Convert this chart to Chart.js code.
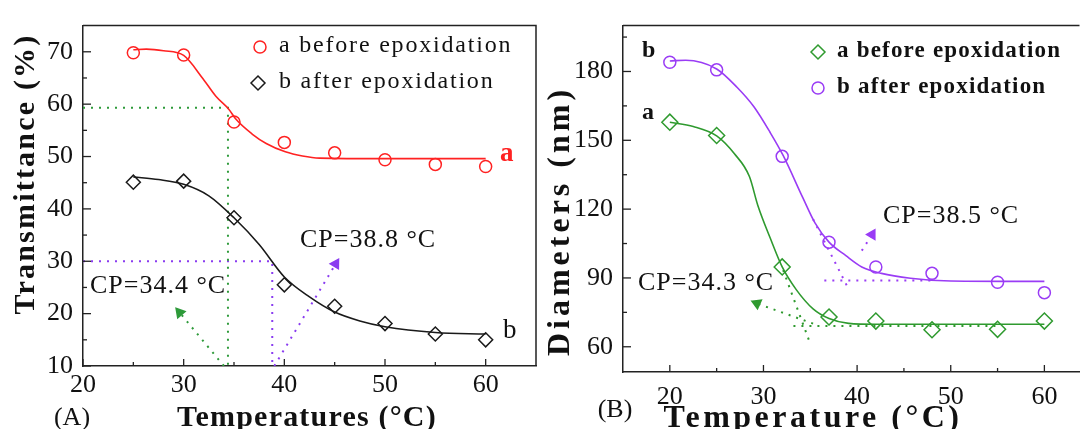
<!DOCTYPE html>
<html>
<head>
<meta charset="utf-8">
<script src="https://cdn.jsdelivr.net/npm/chart.js@4.4.0/dist/chart.umd.min.js"></script>
<style>
  body { margin: 0; background: #fff; width: 1089px; height: 429px; overflow: hidden; position: relative; }
  #chartA { position: absolute; left: 0; top: 0; }
  #chartB { position: absolute; left: 545px; top: 0; }
</style>
</head>
<body>
<canvas id="chartA" width="545" height="429"></canvas>
<canvas id="chartB" width="544" height="429"></canvas>
<script>
// ---- panel A : transmittance vs temperature ----
const tempA = [25, 30, 35, 40, 45, 50, 55, 60];
const transBefore = [69.8, 69.4, 56.6, 52.7, 50.7, 49.4, 48.5, 48.1];
const transAfter = [45.1, 45.3, 38.3, 25.5, 21.4, 18.1, 16.1, 15.0];

// fitted curves
const fitTempBefore = [25, 26.3, 28, 30, 31.9, 33.2, 34.5, 35.2, 36.8, 38.2, 40.1, 41.8, 43.5, 50, 60];
const fitBefore = [70.4, 70.5, 70.2, 69.3, 64.9, 61.5, 59.0, 57.1, 54.3, 52.5, 50.9, 50.1, 49.7, 49.6, 49.6];
const fitTempAfter = [25, 27.5, 30, 32.5, 35, 37.5, 40, 42.5, 45, 47.5, 50, 55, 60];
const fitAfter = [46.1, 45.6, 44.7, 42.5, 38.3, 33.2, 27.0, 23.2, 20.3, 18.6, 17.5, 16.4, 16.1];

// cloud point guide lines (dotted) and arrows
const guideGreenX = [20, 34.4, 34.4];
const guideGreenY = [59.3, 59.3, 10];
const guidePurpleX = [20, 38.8, 38.8];
const guidePurpleY = [30, 30, 10];
const arrowGreenX = [34.0, 29.6];
const arrowGreenY = [10, 20.2];
const arrowPurpleX = [39.0, 45.1];
const arrowPurpleY = [10, 29.5];

const ticksAx = [20, 30, 40, 50, 60];
const minorAx = [25, 35, 45, 55];
const ticksAy = [10, 20, 30, 40, 50, 60, 70];
const minorAy = [15, 25, 35, 45, 55, 65];

// ---- panel B : diameters vs temperature ----
const tempB = [20, 25, 32, 37, 42, 48, 55, 60];
const diamBefore = [157.9, 152.1, 94.8, 73.0, 71.2, 67.4, 67.6, 71.2];
const diamAfter = [184.0, 180.7, 143.0, 105.6, 94.8, 92.0, 88.1, 83.6];

const fitTempB1 = [20, 22.5, 25, 26.9, 28.5, 29.4, 30.7, 32, 33.5, 35.3, 37, 39.1, 42, 50, 60];
const fitDiamBefore = [157.9, 156.0, 151.9, 144.1, 134.2, 121.6, 107.6, 94.8, 84.9, 76.5, 72.3, 70.2, 69.8, 69.8, 69.8];
const fitTempB2 = [20, 21.7, 25, 27.2, 29, 30.7, 32.1, 34.2, 35.5, 37, 38.8, 40.5, 42.6, 45.7, 50, 60];
const fitDiamAfter = [184.6, 184.9, 181.1, 173.0, 164.5, 153.5, 143.4, 125.0, 114.0, 105.6, 99.7, 94.8, 92.0, 89.9, 88.7, 88.5];

const tanPurpleX = [35.3, 39.1];
const tanPurpleY = [115.6, 85.1];
const flatPurpleX = [36.5, 48];
const flatPurpleY = [88.9, 88.9];
const arrowPurpleBX = [40.5, 41.6];
const arrowPurpleBY = [101.9, 108.9];
const tanGreenX = [32.1, 34.9];
const tanGreenY = [93.4, 62.4];
const flatGreenX = [33.2, 55];
const flatGreenY = [69.1, 69.1];
const arrowGreenBX = [35.3, 29.3];
const arrowGreenBY = [70.1, 78.9];

const ticksBx = [20, 30, 40, 50, 60];
const minorBx = [25, 35, 45, 55];
const ticksBy = [60, 90, 120, 150, 180];
const minorBy = [75, 105, 135, 165, 195];

const RED = '#ff2222', BLACK = '#1a1a1a';
const GREEN_A = '#2e9a3a', PURPLE_A = '#8a3cf0';
const GREEN_B = '#2f9a2f', PURPLE_B = '#9a3cf5';
const SERIF = '"Liberation Serif", "DejaVu Serif", serif';

function pts(xs, ys) { return xs.map((x, i) => ({x: x, y: ys[i]})); }

function markers(label, xs, ys, color, style, r) {
  return {label: label, data: pts(xs, ys), showLine: false, pointStyle: style, pointRadius: r,
    pointBorderColor: color, pointBackgroundColor: 'rgba(0,0,0,0)', pointBorderWidth: 1.5, order: 0};
}
function curve(xs, ys, color) {
  return {data: pts(xs, ys), showLine: true, borderColor: color, borderWidth: 1.6, pointRadius: 0,
    cubicInterpolationMode: 'monotone', order: 2};
}
function dotted(xs, ys, color) {
  return {data: pts(xs, ys), showLine: true, borderColor: color, borderWidth: 2, borderDash: [2, 6],
    pointRadius: 0, order: 3};
}
function arrow(xs, ys, color, rot) {
  return {data: pts(xs, ys), showLine: true, borderColor: color, borderWidth: 2, borderDash: [2, 6],
    pointRadius: [0, 5], pointStyle: 'triangle', pointRotation: [0, rot],
    pointBackgroundColor: color, pointBorderColor: color, order: 3};
}

// inward ticks, frame, in-plot legend and labels
function decor(o) {
  return {
    id: 'decor',
    afterDraw(chart) {
      const ctx = chart.ctx, a = chart.chartArea;
      const xs = chart.scales.x, ys = chart.scales.y;
      ctx.save();
      ctx.strokeStyle = '#222';
      ctx.lineWidth = 1.5;
      ctx.beginPath();
      ctx.moveTo(a.left, a.top);
      ctx.lineTo(a.right, a.top);
      if (o.rightBorder) ctx.lineTo(a.right, a.bottom);
      ctx.stroke();

      ctx.lineWidth = 1.3;
      const tick = (scale, vals, len) => vals.forEach(v => {
        const p = scale.getPixelForValue(v);
        ctx.beginPath();
        if (scale.isHorizontal()) { ctx.moveTo(p, a.bottom); ctx.lineTo(p, a.bottom - len); }
        else { ctx.moveTo(a.left, p); ctx.lineTo(a.left + len, p); }
        ctx.stroke();
      });
      tick(xs, o.xMajor, 7); tick(xs, o.xMinor, 4);
      tick(ys, o.yMajor, 8); tick(ys, o.yMinor, 4);

      o.legend.forEach(l => {
        ctx.strokeStyle = l.color;
        ctx.lineWidth = 1.5;
        ctx.beginPath();
        if (l.style === 'circle') ctx.arc(l.x, l.y, 6, 0, Math.PI * 2);
        else { ctx.moveTo(l.x, l.y - 7); ctx.lineTo(l.x + 7, l.y); ctx.lineTo(l.x, l.y + 7); ctx.lineTo(l.x - 7, l.y); ctx.closePath(); }
        ctx.stroke();
      });

      ctx.textBaseline = 'middle';
      o.texts.forEach(t => {
        ctx.save();
        ctx.font = t.font;
        ctx.fillStyle = t.color || '#111';
        ctx.letterSpacing = (t.ls || 0) + 'px';
        ctx.textAlign = t.align || 'left';
        ctx.translate(t.x, t.y);
        if (t.rot) ctx.rotate(t.rot);
        ctx.fillText(t.s, 0, 0);
        ctx.restore();
      });
      ctx.restore();
    }
  };
}

function axes(xmin, xmax, ymin, ymax, xt, yt, yw, xh, xpad) {
  const tickFont = {family: SERIF, size: 26};
  return {
    x: {type: 'linear', min: xmin, max: xmax,
      afterBuildTicks: s => { s.ticks = xt.map(v => ({value: v})); },
      afterFit: s => { s.height = xh; },
      grid: {display: false, drawTicks: false}, border: {display: true, color: '#222', width: 1.5},
      ticks: {font: tickFont, color: '#111', padding: xpad, maxRotation: 0}},
    y: {type: 'linear', min: ymin, max: ymax,
      afterBuildTicks: s => { s.ticks = yt.map(v => ({value: v})); },
      afterFit: s => { s.width = yw; },
      grid: {display: false, drawTicks: false}, border: {display: true, color: '#222', width: 1.5},
      ticks: {font: tickFont, color: '#111', padding: 10}}
  };
}

const common = {
  responsive: false, animation: false,
  plugins: {legend: {display: false}, tooltip: {enabled: false}}
};

new Chart(document.getElementById('chartA'), {
  type: 'scatter',
  data: {datasets: [
    markers('a before epoxidation', tempA, transBefore, RED, 'circle', 6),
    markers('b after epoxidation', tempA, transAfter, BLACK, 'rectRot', 7),
    curve(fitTempBefore, fitBefore, RED),
    curve(fitTempAfter, fitAfter, BLACK),
    dotted(guideGreenX, guideGreenY, GREEN_A),
    dotted(guidePurpleX, guidePurpleY, PURPLE_A),
    arrow(arrowGreenX, arrowGreenY, GREEN_A, -40),
    arrow(arrowPurpleX, arrowPurpleY, PURPLE_A, 31)
  ]},
  options: Object.assign({}, common, {
    layout: {padding: {top: 15, right: 9, left: 0, bottom: 0}},
    scales: axes(20, 65, 10, 75, ticksAx, ticksAy, 83, 63, 4)
  }),
  plugins: [decor({
    rightBorder: true, xMajor: ticksAx, xMinor: minorAx, yMajor: ticksAy, yMinor: minorAy,
    legend: [{x: 260, y: 47, color: RED, style: 'circle'}, {x: 258, y: 83, color: BLACK, style: 'diamond'}],
    texts: [
      {s: 'a before epoxidation', x: 279, y: 46, font: '24px ' + SERIF, ls: 1.8},
      {s: 'b after epoxidation', x: 279, y: 82, font: '24px ' + SERIF, ls: 1.8},
      {s: 'a', x: 500, y: 154, font: 'bold 27px ' + SERIF, color: RED},
      {s: 'b', x: 503, y: 331, font: '27px ' + SERIF},
      {s: 'CP=38.8 °C', x: 300, y: 240, font: '26px ' + SERIF, ls: 1},
      {s: 'CP=34.4 °C', x: 90, y: 286, font: '26px ' + SERIF, ls: 1},
      {s: 'Transmittance (%)', x: 26, y: 174, rot: -Math.PI / 2, align: 'center', font: 'bold 30px ' + SERIF, ls: 2.2},
      {s: 'Temperatures (°C)', x: 307, y: 418, align: 'center', font: 'bold 30px ' + SERIF, ls: 1.2},
      {s: '(A)', x: 72, y: 418, align: 'center', font: '26px ' + SERIF}
    ]
  })]
});

new Chart(document.getElementById('chartB'), {
  type: 'scatter',
  data: {datasets: [
    markers('a before epoxidation', tempB, diamBefore, GREEN_B, 'rectRot', 8),
    markers('b after epoxidation', tempB, diamAfter, PURPLE_B, 'circle', 6),
    curve(fitTempB1, fitDiamBefore, GREEN_B),
    curve(fitTempB2, fitDiamAfter, PURPLE_B),
    dotted(tanPurpleX, tanPurpleY, PURPLE_B),
    dotted(flatPurpleX, flatPurpleY, PURPLE_B),
    arrow(arrowPurpleBX, arrowPurpleBY, PURPLE_B, 30),
    dotted(tanGreenX, tanGreenY, GREEN_B),
    dotted(flatGreenX, flatGreenY, GREEN_B),
    arrow(arrowGreenBX, arrowGreenBY, GREEN_B, -66)
  ]},
  options: Object.assign({}, common, {
    layout: {padding: {top: 14, right: 0, left: 0, bottom: 0}},
    scales: axes(15, 63.75, 49, 200, ticksBx, ticksBy, 78, 57, 10)
  }),
  plugins: [decor({
    rightBorder: false, xMajor: ticksBx, xMinor: minorBx, yMajor: ticksBy, yMinor: minorBy,
    legend: [{x: 273, y: 52, color: GREEN_B, style: 'diamond'}, {x: 273, y: 88, color: PURPLE_B, style: 'circle'}],
    texts: [
      {s: 'a before epoxidation', x: 292, y: 51, font: 'bold 23px ' + SERIF, ls: 1.2},
      {s: 'b after epoxidation', x: 292, y: 87, font: 'bold 23px ' + SERIF, ls: 1.2},
      {s: 'b', x: 97, y: 51, font: 'bold 24px ' + SERIF},
      {s: 'a', x: 97, y: 113, font: 'bold 24px ' + SERIF},
      {s: 'CP=38.5 °C', x: 338, y: 216, font: '26px ' + SERIF, ls: 1},
      {s: 'CP=34.3 °C', x: 93, y: 283, font: '26px ' + SERIF, ls: 1},
      {s: 'Diameters (nm)', x: 16, y: 221, rot: -Math.PI / 2, align: 'center', font: 'bold 32px ' + SERIF, ls: 4},
      {s: 'Temperature (°C)', x: 268, y: 419, align: 'center', font: 'bold 32px ' + SERIF, ls: 3.5},
      {s: '(B)', x: 70, y: 410, align: 'center', font: '26px ' + SERIF}
    ]
  })]
});
</script>
</body>
</html>
